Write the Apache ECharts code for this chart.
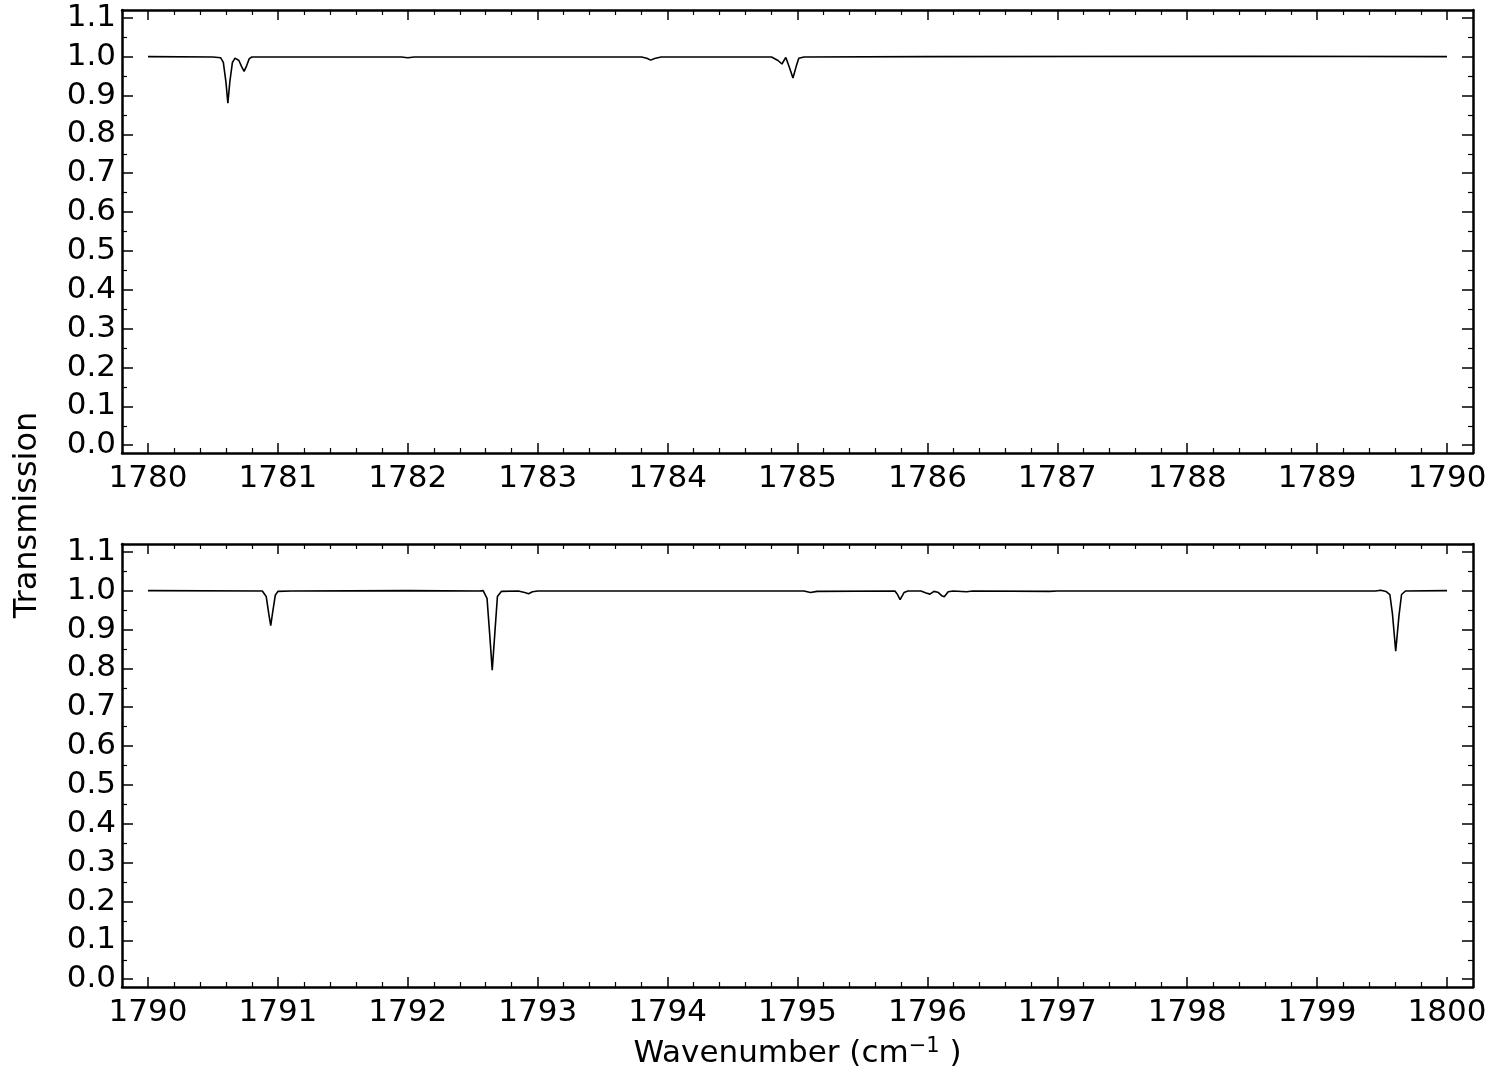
<!DOCTYPE html>
<html>
<head>
<meta charset="utf-8">
<script src="https://cdn.jsdelivr.net/npm/echarts@6/dist/echarts.min.js"></script>
<style>
html,body{margin:0;padding:0;background:#fff;}
#chart{width:1499px;height:1070px;}
</style>
</head>
<body>
<div id="chart"></div>
<script>
// ---- data ----
var xTop = [1780.00, 1780.50, 1780.56, 1780.58, 1780.60, 1780.615, 1780.63, 1780.65, 1780.67, 1780.70, 1780.72, 1780.74, 1780.76, 1780.78, 1780.80,
            1781.95, 1782.00, 1782.05, 1783.80, 1783.84, 1783.87, 1783.90, 1783.95,
            1784.80, 1784.85, 1784.88, 1784.91, 1784.94, 1784.965, 1784.99, 1785.01, 1785.05,
            1786.00, 1788.50, 1790.00];
var yTop = [1.000, 0.999, 0.997, 0.985, 0.935, 0.880, 0.935, 0.985, 0.996, 0.990, 0.975, 0.962, 0.977, 0.995, 0.999,
            0.999, 0.997, 0.999, 0.999, 0.996, 0.991, 0.995, 0.999,
            0.999, 0.990, 0.981, 0.998, 0.970, 0.945, 0.975, 0.996, 0.999,
            1.000, 1.001, 1.000];

var xBot = [1790.00, 1790.88, 1790.91, 1790.93, 1790.945, 1790.96, 1790.98, 1791.00, 1791.10,
            1792.00, 1792.55, 1792.58, 1792.61, 1792.63, 1792.65, 1792.67, 1792.69, 1792.72,
            1792.85, 1792.90, 1792.93, 1792.96, 1793.00,
            1795.05, 1795.10, 1795.15, 1795.75, 1795.77, 1795.79, 1795.82, 1795.85,
            1795.95, 1795.99, 1796.02, 1796.05, 1796.08, 1796.11, 1796.13, 1796.16, 1796.20,
            1796.30, 1796.35, 1796.94, 1797.00,
            1799.45, 1799.49, 1799.53, 1799.56, 1799.58, 1799.605, 1799.63, 1799.65, 1799.68, 1800.00];
var yBot = [1.000, 0.999, 0.985, 0.940, 0.910, 0.945, 0.988, 0.998, 0.999,
            1.000, 0.999, 1.000, 0.980, 0.890, 0.795, 0.890, 0.985, 0.998,
            0.999, 0.995, 0.992, 0.997, 0.999,
            0.999, 0.995, 0.998, 0.999, 0.990, 0.977, 0.995, 0.999,
            0.999, 0.994, 0.991, 0.998, 0.996, 0.987, 0.984, 0.997, 0.999,
            0.997, 0.999, 0.998, 0.999,
            0.999, 1.001, 0.998, 0.990, 0.940, 0.844, 0.935, 0.990, 0.999, 1.000];

var xTicksTop = [1780, 1781, 1782, 1783, 1784, 1785, 1786, 1787, 1788, 1789, 1790];
var xTicksBot = [1790, 1791, 1792, 1793, 1794, 1795, 1796, 1797, 1798, 1799, 1800];
var yTicks = [0.0, 0.1, 0.2, 0.3, 0.4, 0.5, 0.6, 0.7, 0.8, 0.9, 1.0, 1.1];

var xLabel = 'Wavenumber (cm';
var yLabel = 'Transmission';

// ---- helpers ----
function pairs(xs, ys) { return xs.map(function (x, i) { return [x, ys[i]]; }); }
function minorsX(t) {
  var out = [];
  for (var i = 0; i < t.length - 1; i++) {
    for (var k = 1; k < 5; k++) out.push(Math.round((t[i] + k * 0.2) * 10) / 10);
  }
  return out;
}
function minorsY(t) {
  var out = [];
  for (var i = 0; i < t.length - 1; i++) out.push(Math.round((t[i] + 0.05) * 100) / 100);
  return out;
}

var FONT = 'DejaVu Sans';
var FS = 31;
var FRAME = 2.5;
var grids = [
  { left: 122, right: 26, top: 10, height: 443 },
  { left: 122, right: 26, top: 544, height: 443 }
];
var xAxes = [], yAxes = [];
function addX(gi, ticks, xmin, xmax, withName) {
  var minor = minorsX(ticks);
  var common = { type: 'value', gridIndex: gi, min: xmin, max: xmax, splitLine: { show: false } };
  xAxes.push(Object.assign({}, common, {
    position: 'bottom',
    axisLine: { show: true, onZero: false, lineStyle: { color: '#000', width: FRAME } },
    axisTick: { show: true, inside: true, length: 10, customValues: ticks, lineStyle: { color: '#000', width: 1.5 } },
    axisLabel: { show: true, customValues: ticks, margin: 10, color: '#000', fontFamily: FONT, fontSize: FS,
                 formatter: function (v) { return String(Math.round(v)); } },
    name: withName ? '{a|' + xLabel + '}{b|\u22121}{a| )}' : '',
    nameLocation: 'middle', nameGap: 49,
    nameTextStyle: { rich: { a: { fontFamily: FONT, fontSize: 31, color: '#000' },
                             b: { fontFamily: FONT, fontSize: 21, color: '#000', verticalAlign: 'top', padding: [0, 0, 14, 0] } } }
  }));
  xAxes.push(Object.assign({}, common, {
    position: 'bottom', axisLine: { show: false, onZero: false },
    axisTick: { show: true, inside: true, length: 5, customValues: minor, lineStyle: { color: '#000', width: 1.2 } },
    axisLabel: { show: false }
  }));
  xAxes.push(Object.assign({}, common, {
    position: 'top',
    axisLine: { show: true, onZero: false, lineStyle: { color: '#000', width: FRAME } },
    axisTick: { show: true, inside: true, length: 10, customValues: ticks, lineStyle: { color: '#000', width: 1.5 } },
    axisLabel: { show: false }
  }));
  xAxes.push(Object.assign({}, common, {
    position: 'top', axisLine: { show: false, onZero: false },
    axisTick: { show: true, inside: true, length: 5, customValues: minor, lineStyle: { color: '#000', width: 1.2 } },
    axisLabel: { show: false }
  }));
}
function addY(gi) {
  var minor = minorsY(yTicks);
  var common = { type: 'value', gridIndex: gi, min: -0.02, max: 1.12, splitLine: { show: false } };
  yAxes.push(Object.assign({}, common, {
    position: 'left',
    axisLine: { show: true, onZero: false, lineStyle: { color: '#000', width: FRAME } },
    axisTick: { show: true, inside: true, length: 11, customValues: yTicks, lineStyle: { color: '#000', width: 1.5 } },
    axisLabel: { show: true, customValues: yTicks, margin: 6, color: '#000', fontFamily: FONT, fontSize: FS,
                 formatter: function (v) { return v.toFixed(1); } }
  }));
  yAxes.push(Object.assign({}, common, {
    position: 'left', axisLine: { show: false, onZero: false },
    axisTick: { show: true, inside: true, length: 5, customValues: minor, lineStyle: { color: '#000', width: 1.2 } },
    axisLabel: { show: false }
  }));
  yAxes.push(Object.assign({}, common, {
    position: 'right',
    axisLine: { show: true, onZero: false, lineStyle: { color: '#000', width: FRAME } },
    axisTick: { show: true, inside: true, length: 11, customValues: yTicks, lineStyle: { color: '#000', width: 1.5 } },
    axisLabel: { show: false }
  }));
  yAxes.push(Object.assign({}, common, {
    position: 'right', axisLine: { show: false, onZero: false },
    axisTick: { show: true, inside: true, length: 5, customValues: minor, lineStyle: { color: '#000', width: 1.2 } },
    axisLabel: { show: false }
  }));
}
addX(0, xTicksTop, 1779.8, 1790.2, false);
addY(0);
addX(1, xTicksBot, 1789.8, 1800.2, true);
addY(1);

var chart = echarts.init(document.getElementById('chart'), null, { renderer: 'canvas' });
chart.setOption({
  animation: false,
  backgroundColor: '#fff',
  grid: grids,
  xAxis: xAxes,
  yAxis: yAxes,
  graphic: [{
    type: 'text', x: 28, y: 515, rotation: Math.PI / 2,
    style: { text: yLabel, fontFamily: FONT, fontSize: 32, fill: '#000', align: 'center', verticalAlign: 'middle' }
  }],
  series: [
    { type: 'line', xAxisIndex: 0, yAxisIndex: 0, data: pairs(xTop, yTop), showSymbol: false, symbol: 'none',
      lineStyle: { color: '#000', width: 1.6 } },
    { type: 'line', xAxisIndex: 4, yAxisIndex: 4, data: pairs(xBot, yBot), showSymbol: false, symbol: 'none',
      lineStyle: { color: '#000', width: 1.6 } }
  ]
});
</script>
</body>
</html>
